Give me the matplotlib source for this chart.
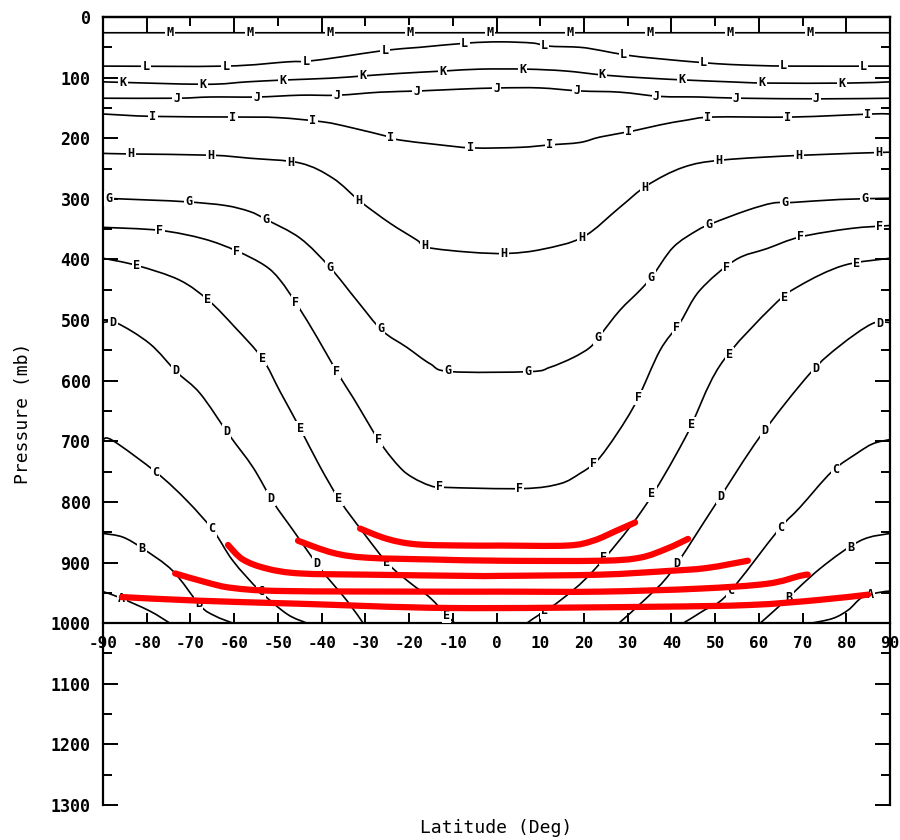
import numpy as np
import matplotlib
matplotlib.use("Agg")
import matplotlib.pyplot as plt
from matplotlib.ticker import MultipleLocator, FixedLocator
from matplotlib.path import Path
from matplotlib.patches import PathPatch

plt.rcParams['axes.unicode_minus'] = False

# ---------------- data (latitude in deg, pressure in mb) ----------------
lat_M = [-90, -45, 0, 45, 90]
p_M = [26, 26, 26, 26, 26]

lat_L = [-90, -61.9, -47.8, -43.3, -35.8, -25.5, -17.5, -6.7, 0.8, 8.3, 11.8, 19.1, 23.7, 29.8, 37.4, 48.4, 55.7, 66.8, 90]
p_L = [81, 81, 74, 73, 66, 55, 50, 43, 41, 43, 48, 50, 55, 63, 69, 76, 79, 81, 81]

lat_K = [-90, -66.7, -57.1, -48.8, -38.1, -30.1, -22.1, -11.8, -3.8, 6.7, 15.7, 24.8, 35.1, 43.3, 53.4, 61.9, 80.4, 90]
p_K = [107, 111, 107, 104, 101, 97, 93, 89, 86, 86, 89, 96, 101, 104, 107, 109, 109, 107]

lat_J = [-90, -73.1, -65.5, -54.8, -44.9, -36.3, -26.6, -17.7, -8.3, 0.8, 9.9, 19.1, 28.2, 37.4, 46.5, 56.1, 74.5, 90]
p_J = [134, 134, 132, 132, 129, 129, 124, 122, 119, 117, 117, 122, 124, 131, 132, 134, 135, 134]

lat_I = [-90, -78.6, -60.3, -50, -39.7, -33.5, -24.4, -22.1, -14.1, -5.4, 5.4, 12.2, 19.1, 23.7, 31.2, 37.4, 43.6, 49.5, 67.8, 85.9, 90]
p_I = [160, 164, 165, 166, 173, 182, 198, 203, 210, 216, 215, 211, 207, 198, 188, 178, 170, 165, 165, 160, 160]

lat_H = [-90, -83.6, -65.3, -56.4, -44.9, -37.4, -31.2, -24.4, -18.2, -15.9, -6.1, 2.6, 10.6, 19.8, 28.2, 34.4, 42.7, 51.6, 70.1, 90]
p_H = [225, 226, 228, 233, 241, 266, 304, 340, 368, 380, 388, 390, 383, 363, 314, 278, 248, 236, 228, 223]

lat_G = [-90, -79.3, -70.6, -62, -56.4, -52.7, -44.9, -38.1, -31.9, -26.2, -20.5, -15.2, -10.6, 7.7, 12.2, 17.5, 21.4, 23.7, 28.2, 32.8, 35.6, 40.4, 45.9, 49.5, 57.3, 63.2, 67.6, 78.6, 90]
p_G = [299, 302, 305, 311, 321, 334, 365, 413, 468, 517, 545, 572, 585, 585, 578, 562, 545, 525, 484, 451, 428, 380, 352, 340, 319, 307, 306, 301, 299]

lat_F = [-90, -77, -67, -59.4, -53, -49.5, -45.4, -41, -36.3, -32.8, -26.6, -22.1, -19.1, -15.2, -11.8, 6.1, 14.5, 19.1, 23, 27.6, 32.1, 37.4, 42, 46.5, 54.6, 61.9, 69.4, 80.9, 90]
p_F = [347, 352, 366, 386, 410, 434, 477, 529, 588, 628, 702, 743, 760, 773, 776, 778, 770, 753, 732, 687, 633, 550, 504, 451, 401, 382, 363, 349, 344]

# contours that reach the 1000 mb surface: southern (s) and northern (n) branches
lat_E_s = [-90, -82.2, -72.5, -65.8, -59.8, -53.6, -49.5, -44.9, -40.5, -35.8, -30, -24.8, -19.5, -15.2, -11.3, -9.5]
p_E_s = [398, 410, 434, 468, 512, 563, 618, 679, 740, 798, 855, 902, 935, 958, 988, 1000]
lat_E_n = [7, 8.3, 14.5, 22.1, 33.3, 43.1, 51.1, 63.2, 69.4, 79.3, 90]
p_E_n = [1000, 993, 963, 914, 814, 695, 575, 477, 443, 410, 398]

lat_D_s = [-90, -86.8, -79.3, -73.1, -67.8, -61.2, -55.7, -51.1, -46.5, -40.4, -34.2, -30.5]
p_D_s = [504, 505, 539, 586, 621, 689, 743, 800, 847, 909, 963, 1000]
lat_D_n = [28, 34.4, 40.1, 50, 60.3, 71.7, 78.6, 85.9, 90]
p_D_n = [1000, 958, 914, 805, 692, 588, 542, 506, 504]

lat_C_s = [-90, -87.7, -77.7, -70.8, -64.8, -60.3, -54.1, -47.9, -43.3]
p_C_s = [697, 699, 752, 798, 847, 897, 947, 985, 1000]
lat_C_n = [42.7, 47.2, 52.9, 64.4, 69.4, 76.7, 82.4, 86.1, 90]
p_C_n = [1000, 980, 952, 847, 809, 750, 720, 704, 697]

lat_B_s = [-90, -85.5, -80.9, -74, -67.8, -64.4, -60.3]
p_B_s = [852, 858, 877, 914, 971, 988, 1000]
lat_B_n = [60.3, 64.2, 74, 83.2, 90]
p_B_n = [1000, 975, 910, 864, 852]

lat_A_s = [-90, -86.1, -79.3, -74.7]
p_A_s = [948, 958, 980, 1000]
lat_A_n = [72, 77, 80.5, 83.5, 87, 90]
p_A_n = [1000, 992, 978, 958, 950, 947]

# red overlay curves
red1_lat = [-31.2, -25, -18.2, -6.7, 0.8, 16.1, 22.1, 27.6, 31.7]
red1_p = [844, 861, 870, 872, 872, 872, 864, 847, 834]
red2_lat = [-45.4, -37.4, -29.6, -14.5, 0.8, 23.7, 32.8, 39, 43.8]
red2_p = [864, 884, 892, 895, 897, 897, 892, 877, 861]
red3_lat = [-61.4, -58, -52.5, -44.9, -29.6, -6.7, 0.8, 23.7, 39, 48.1, 57.5]
red3_p = [871, 895, 910, 918, 920, 922, 922, 920, 914, 909, 897]
red4_lat = [-73.5, -66.2, -60.3, -48.8, -14.5, 0.8, 23.7, 46.5, 61.9, 69.4, 71.2]
red4_p = [918, 933, 942, 947, 948, 948, 948, 943, 935, 922, 920]
red5_lat = [-85.7, -67.8, -44.9, -10.6, 35.1, 58, 73.3, 85]
red5_p = [957, 963, 968, 975, 973, 970, 962, 953]

x_ticks = list(range(-90, 91, 10))
y_ticks = list(range(0, 1301, 100))

# ---------------- figure ----------------
W, H = 900, 840
fig = plt.figure(figsize=(W / 100, H / 100), dpi=100)
ax = fig.add_axes([103 / W, (H - 805) / H, 787 / W, 788 / H])
ax.set_xlim(-90, 90)
ax.set_ylim(1300, 0)

mono = 'DejaVu Sans Mono'

# (letter, lat, p, label offset in px along path)
full_lines = [
    ("M", lat_M, p_M, 67), ("L", lat_L, p_L, 43), ("K", lat_K, p_K, 20),
    ("J", lat_J, p_J, 74), ("I", lat_I, p_I, 50), ("H", lat_H, p_H, 28),
    ("G", lat_G, p_G, 6), ("F", lat_F, p_F, 57),
]
split_lines = [
    ("E", lat_E_s, p_E_s, lat_E_n, p_E_n, 34),
    ("D", lat_D_s, p_D_s, lat_D_n, p_D_n, 10),
    ("C", lat_C_s, p_C_s, lat_C_n, p_C_n, 63),
    ("B", lat_B_s, p_B_s, lat_B_n, p_B_n, 42),
    ("A", lat_A_s, p_A_s, lat_A_n, p_A_n, 20),
]


def smooth_curve(lat, p, **kw):
    """Draw a smooth Bezier curve through the given points (Catmull-Rom)."""
    P = np.column_stack([lat, p]).astype(float)
    n = len(P)
    verts = [P[0]]
    codes = [Path.MOVETO]
    for i in range(n - 1):
        p0 = P[i - 1] if i > 0 else P[i]
        p1, p2 = P[i], P[i + 1]
        p3 = P[i + 2] if i + 2 < n else P[i + 1]
        c1 = p1 + (p2 - p0) / 6.0
        c2 = p2 - (p3 - p1) / 6.0
        verts += [c1, c2, p2]
        codes += [Path.CURVE4] * 3
    patch = PathPatch(Path(verts, codes), fill=False, **kw)
    ax.add_patch(patch)


def place_labels(lat, p, letter, offset, spacing=80):
    pts = ax.transData.transform(np.column_stack([lat, p]))
    d = np.hypot(np.diff(pts[:, 0]), np.diff(pts[:, 1]))
    s = np.concatenate([[0], np.cumsum(d)])
    pos = np.arange(offset, s[-1] - 6, spacing)
    xs = np.interp(pos, s, pts[:, 0])
    ys = np.interp(pos, s, pts[:, 1])
    inv = ax.transData.inverted()
    for x, y in zip(xs, ys):
        lx, ly = inv.transform((x, y))
        ax.text(lx, ly, letter, ha='center', va='center', fontsize=8.5,
                family=mono, fontweight='bold', zorder=3,
                bbox=dict(boxstyle='square,pad=0.1', fc='white', ec='none'))


line_kw = dict(edgecolor='black', lw=1.2, zorder=2)
for letter, la, pp, off in full_lines:
    smooth_curve(la, pp, **line_kw)
    place_labels(la, pp, letter, off)

for letter, las, ps, lan, pn, off in split_lines:
    smooth_curve(las, ps, **line_kw)
    smooth_curve(lan, pn, **line_kw)
    place_labels(las, ps, letter, off)
    place_labels(lan[::-1], pn[::-1], letter, off)

for la, pp in [(red1_lat, red1_p), (red2_lat, red2_p), (red3_lat, red3_p),
               (red4_lat, red4_p), (red5_lat, red5_p)]:
    smooth_curve(la, pp, edgecolor='#ff0000', lw=4.5, capstyle='round', zorder=5)

# ---------------- axes styling ----------------
for sp in ax.spines.values():
    sp.set_linewidth(1.6)
ax.spines['bottom'].set_position(('data', 1000))

ax.xaxis.set_major_locator(FixedLocator(x_ticks))
ax.set_xticklabels([str(v) for v in x_ticks])
ax.tick_params(axis='x', which='major', direction='in', length=7.5, width=1.4,
               top=False, labelsize=11.5, pad=9)
ax.yaxis.set_major_locator(FixedLocator(y_ticks))
ax.yaxis.set_minor_locator(MultipleLocator(50))
ax.set_yticklabels([str(v) for v in y_ticks])
ax.tick_params(axis='y', which='major', direction='in', length=10.5, width=1.4,
               left=True, right=True, labelsize=12, pad=9)
ax.tick_params(axis='y', which='minor', direction='in', length=6.5, width=1.4,
               left=True, right=True)
for lbl in ax.get_xticklabels() + ax.get_yticklabels():
    lbl.set_fontfamily(mono)
    lbl.set_fontweight('bold')

sec = ax.secondary_xaxis('top')
sec.xaxis.set_major_locator(FixedLocator(list(range(-80, 81, 20))))
sec.xaxis.set_minor_locator(FixedLocator(list(range(-70, 71, 20))))
sec.tick_params(axis='x', which='major', direction='in', length=10.5, width=1.4,
                labeltop=False, labelbottom=False)
sec.tick_params(axis='x', which='minor', direction='in', length=6.5, width=1.4)
sec.spines['top'].set_linewidth(1.6)

fig.text(496 / W, 1 - 828 / H, 'Latitude (Deg)', ha='center', va='center',
         fontsize=13, family=mono)
fig.text(23 / W, 1 - 413 / H, 'Pressure (mb)', ha='center', va='center',
         rotation=90, fontsize=13, family=mono)

fig.savefig('out.png', dpi=100)
